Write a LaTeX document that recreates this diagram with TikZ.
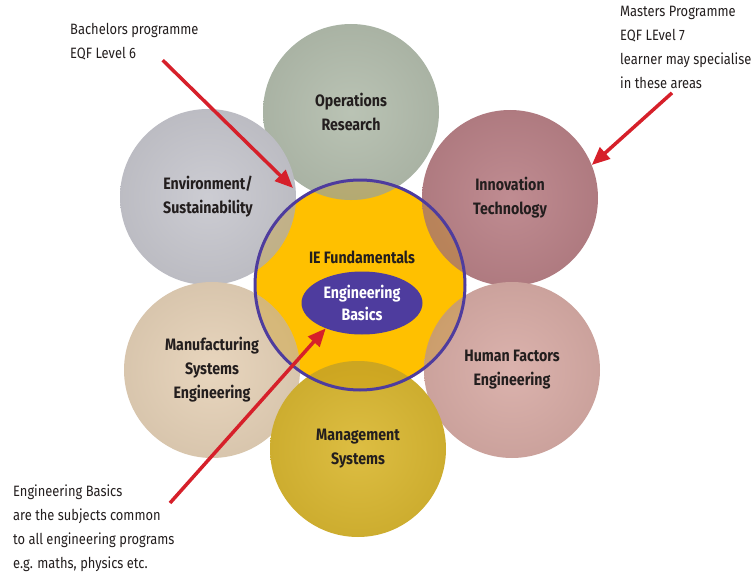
\documentclass[tikz,border=0pt]{standalone}
\usepackage{fontspec}
\setmainfont{Fira Sans}[FakeStretch=0.86]
\usetikzlibrary{calc, shapes.geometric, arrows.meta}

\definecolor{opscol}{RGB}{180,190,174}
\definecolor{envcol}{RGB}{200,200,207}
\definecolor{inncol}{RGB}{186,130,136}
\definecolor{humcol}{RGB}{216,172,166}
\definecolor{mgtcol}{RGB}{218,184,50}
\definecolor{mfgcol}{RGB}{230,210,184}
\definecolor{iefill}{RGB}{255,192,0}
\definecolor{ietint}{RGB}{205,150,0}
\definecolor{ringcol}{RGB}{78,60,158}
\definecolor{arrowred}{RGB}{214,32,42}
\definecolor{labeltext}{RGB}{35,30,30}

\begin{document}
\begin{tikzpicture}[x=1pt, y=-1pt,
  ball/.style={circle, minimum size=176pt, inner color=#1!92!white,
    outer color=#1!94!black, align=center, text=labeltext,
    font=\bfseries\fontsize{16.5}{24}\selectfont},
  note/.style={anchor=north west, align=left, inner sep=0pt, text=labeltext,
    font=\fontsize{15}{24}\selectfont},
  redarrow/.style={draw=arrowred, line width=3.5pt,
    -{Triangle[length=18pt, width=15pt]}},
]
  \useasboundingbox (0,0) rectangle (753,578);
  % yellow core under the six areas
  \node[circle, fill=iefill, minimum size=210pt] (core) at (360,285) {};
  \node[ball=opscol] (ops) at (351,112) {Operations\\Research};
  \node[ball=envcol] (env) at (208,197) {Environment/\\Sustainability};
  \node[ball=inncol] (inn) at (510,198) {Innovation\\Technology};
  \node[ball=mfgcol] (mfg) at (212,370) {Manufacturing\\Systems\\Engineering};
  \node[ball=humcol] (hum) at (512,370) {Human Factors\\Engineering};
  \node[ball=mgtcol] (mgt) at (358,449) {Management\\Systems};
  % tint the areas where they lie over the core
  \begin{scope}
    \clip (core.center) circle (105);
    \foreach \b in {ops,env,inn,mfg,hum,mgt}
      \fill[ietint, opacity=0.3] (\b.center) circle (88);
  \end{scope}
  \draw[ringcol, line width=3pt] (core.center) circle (105);
  \node[text=labeltext, font=\bfseries\fontsize{16.5}{18}\selectfont] (iefund) at (362,257) {IE Fundamentals};
  \node[ellipse, fill=ringcol, minimum width=121pt, minimum height=63pt, inner sep=0pt,
    text=white, align=center, font=\bfseries\fontsize{16.5}{22}\selectfont] (basics) at (362,303) {Engineering\\Basics};
  % notes and arrows
  \node[note] (bach) at (70,23) {Bachelors programme\\EQF Level 6};
  \node[note] (mast) at (620,6) {Masters Programme\\EQF LEvel 7\\learner may specialise\\in these areas};
  \node[note] (engnote) at (13,485) {Engineering Basics\\are the subjects common\\to all engineering programs\\e.g. maths, physics etc.};
  \coordinate (bachtip) at (293,188);
  \draw[redarrow] ($(bach.south east)+(-36,0)$) -- (bachtip);
  \draw[redarrow] ($(mast.south west)+(52,4)$) -- (inn.22);
  \draw[redarrow] ($(engnote.north west)+(157,18)$) -- (basics.215);
\end{tikzpicture}
\end{document}
